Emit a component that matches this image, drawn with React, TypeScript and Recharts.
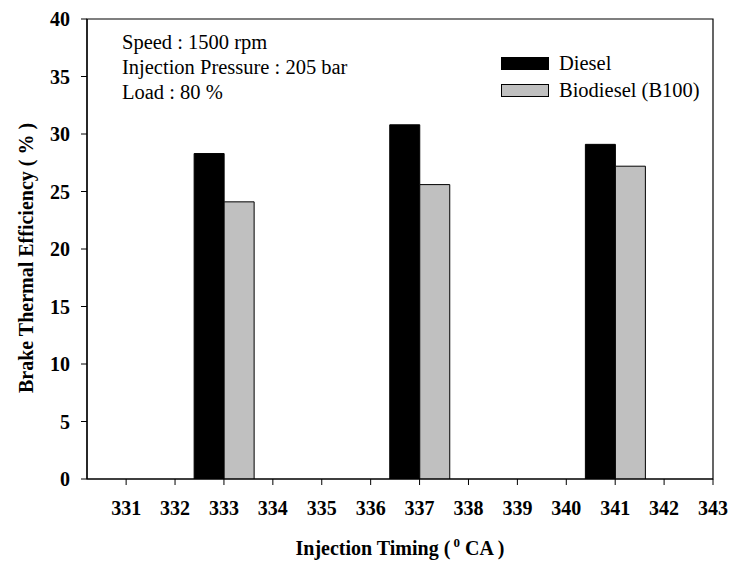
import React from 'react';
import { BarChart, Bar, XAxis, YAxis, ReferenceArea, Legend } from 'recharts';

const timings = [333, 337, 341];
const dieselValues = [28.3, 30.8, 29.1];
const biodieselValues = [24.1, 25.6, 27.2];
const xTicks = [331, 332, 333, 334, 335, 336, 337, 338, 339, 340, 341, 342, 343];
const yTicks = [0, 5, 10, 15, 20, 25, 30, 35, 40];
const seriesNames = ['Diesel', 'Biodiesel (B100)'];
const infoLines = ['Speed : 1500 rpm', 'Injection Pressure : 205 bar', 'Load : 80 %'];

const data = timings.map((t, i) => ({ timing: t, diesel: dieselValues[i], biodiesel: biodieselValues[i] }));

const FONT = '"Liberation Serif", "Times New Roman", serif';
const colors = ['#000000', '#c0c0c0'];

const LegendContent = () => (
  <div style={{ fontFamily: FONT, fontSize: 20.5, color: '#000' }}>
    {seriesNames.map((n, i) => (
      <div key={n} style={{ display: 'flex', alignItems: 'center', height: 27 }}>
        <div style={{ width: 46, height: 11, background: colors[i], border: '1px solid #000', marginRight: 10 }} />
        <span style={{ whiteSpace: 'nowrap' }}>{n}</span>
      </div>
    ))}
  </div>
);

const XTitle = () => (
  <text x={400} y={555} textAnchor="middle" fontFamily={FONT} fontWeight="bold" fontSize={20} fill="#000">
    Injection Timing (
    <tspan dy={-8} fontSize={13}> 0</tspan>
    <tspan dy={8}> CA )</tspan>
  </text>
);

const YTitle = () => (
  <text
    x={26}
    y={258}
    textAnchor="middle"
    dominantBaseline="central"
    transform="rotate(-90, 26, 258)"
    fontFamily={FONT}
    fontWeight="bold"
    fontSize={20}
    fill="#000"
  >
    Brake Thermal Efficiency ( % )
  </text>
);

export default function App() {
  return (
    <div style={{ position: 'absolute', left: 0, top: 0, width: 730, height: 565, background: '#fff' }}>
      <BarChart
        width={730}
        height={565}
        data={data}
        margin={{ top: 19, right: 17, bottom: 0, left: 0 }}
        barGap={0}
      >
        <ReferenceArea x1={330.2} x2={343} y1={0} y2={40} fill="none" stroke="#000" strokeWidth={1.2} ifOverflow="extendDomain" />
        <XAxis
          type="number"
          dataKey="timing"
          domain={[330.2, 343]}
          ticks={xTicks}
          interval={0}
          height={86}
          tickSize={6}
          tickMargin={16}
          axisLine={{ stroke: '#000', strokeWidth: 1.2 }}
          tickLine={{ stroke: '#000' }}
          tick={{ fill: '#000', fontSize: 20, fontWeight: 'bold', fontFamily: FONT }}
          allowDataOverflow
          label={<XTitle />}
        />
        <YAxis
          type="number"
          domain={[0, 40]}
          ticks={yTicks}
          interval={0}
          width={87}
          tickSize={6}
          tickMargin={11}
          axisLine={{ stroke: '#000', strokeWidth: 1.2 }}
          tickLine={{ stroke: '#000' }}
          tick={{ fill: '#000', fontSize: 20, fontWeight: 'bold', fontFamily: FONT }}
          allowDataOverflow
          label={<YTitle />}
        />
        <Legend
          layout="vertical"
          align="center"
          verticalAlign="middle"
          content={<LegendContent />}
          wrapperStyle={{ position: 'absolute', left: 501, top: 50, width: 'auto' }}
        />
        <Bar dataKey="diesel" name={seriesNames[0]} fill={colors[0]} stroke="#000" barSize={30} isAnimationActive={false} />
        <Bar dataKey="biodiesel" name={seriesNames[1]} fill={colors[1]} stroke="#000" barSize={30} isAnimationActive={false} />
      </BarChart>
      <div
        style={{
          position: 'absolute',
          left: 122,
          top: 30,
          fontFamily: FONT,
          fontSize: 20.5,
          lineHeight: '25px',
          color: '#000',
          whiteSpace: 'nowrap',
        }}
      >
        {infoLines.map((l) => (
          <div key={l}>{l}</div>
        ))}
      </div>
    </div>
  );
}
